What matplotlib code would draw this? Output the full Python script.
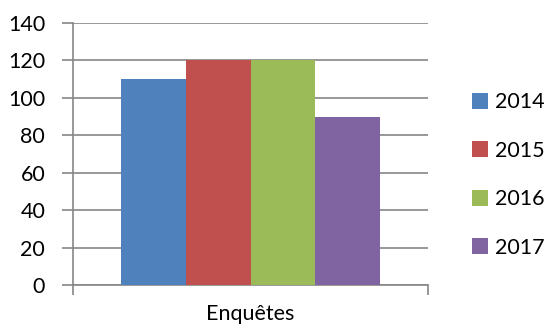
import matplotlib.pyplot as plt
import numpy as np

plt.rcParams['font.family'] = ['Lato', 'DejaVu Sans']

category = "Enquêtes"
years = ["2014", "2015", "2016", "2017"]
values = [110, 120, 120, 90]
colors = ["#4f81bd", "#c0504d", "#9bbb59", "#8064a2"]

grid_color = "#868686"

fig = plt.figure(figsize=(5.47, 3.31), dpi=100)
ax = fig.add_axes([73 / 547, 1 - 285 / 331, (428 - 73) / 547, (285 - 23) / 331])

width = 0.182
offsets = (np.arange(len(years)) - (len(years) - 1) / 2) * width
for off, val, col, yr in zip(offsets, values, colors, years):
    ax.bar(off, val, width=width, color=col, label=yr, zorder=3)

ax.set_xlim(-0.5, 0.5)
ax.set_ylim(0, 140)
ax.set_yticks(np.arange(0, 141, 20))
ax.yaxis.grid(True, color=grid_color, linewidth=1.2, zorder=0)
ax.tick_params(axis='y', length=8, width=1.2, color=grid_color, labelsize=15.5, pad=12)

ax.set_xticks([-0.5, 0.5])
ax.set_xticklabels(["", ""])
ax.tick_params(axis='x', length=7, width=1.2, color=grid_color)
ax.set_xlabel(category, fontsize=15.5, labelpad=3)

for side in ["top", "right"]:
    ax.spines[side].set_visible(False)
for side in ["left", "bottom"]:
    ax.spines[side].set_color(grid_color)
    ax.spines[side].set_linewidth(1.2)

ax.legend(loc='center left', bbox_to_anchor=(1.1, 0.42), frameon=False,
          fontsize=15.5, handlelength=0.75, handleheight=0.75, handletextpad=0.3,
          labelspacing=1.32, borderaxespad=0)

fig.savefig("out.png", dpi=100)
